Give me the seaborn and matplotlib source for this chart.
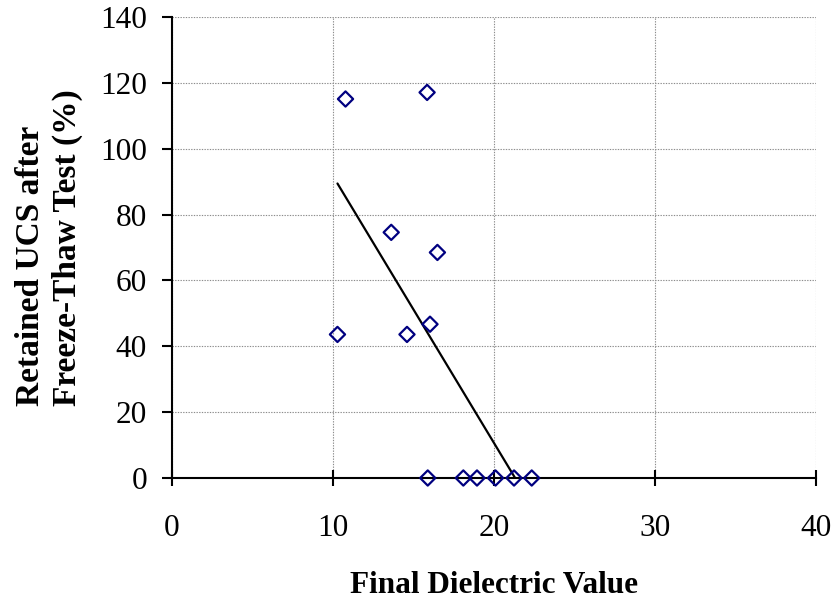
import numpy as np
import pandas as pd
import seaborn as sns
import matplotlib
matplotlib.use("Agg")
import matplotlib.pyplot as plt

# Final dielectric value vs retained UCS after freeze-thaw
dielectric = [10.78, 15.85, 13.62, 16.49, 10.28, 14.60, 16.03,
              15.89, 18.10, 18.95, 20.10, 21.25, 22.35]
retained_ucs = [115.1, 117.1, 74.6, 68.5, 43.6, 43.6, 46.7,
                0.0, 0.0, 0.0, 0.0, 0.0, 0.0]

x_ticks = [0, 10, 20, 30, 40]
y_ticks = [0, 20, 40, 60, 80, 100, 120, 140]

df = pd.DataFrame({"x": dielectric, "y": retained_ucs})

# Linear trend, drawn from the smallest value to where it reaches zero
slope, intercept = np.polyfit(df["x"], df["y"], 1)
x0 = df["x"].min()
x1 = -intercept / slope
trend = pd.DataFrame({"x": [x0, x1], "y": [slope * x0 + intercept, 0.0]})

sns.set_style("white")
plt.rcParams["font.family"] = ["Liberation Serif", "DejaVu Serif"]
plt.rcParams["text.color"] = "black"
plt.rcParams["axes.labelcolor"] = "black"

fig = plt.figure(figsize=(8.35, 6.03), dpi=100)
ax = fig.add_axes([0.2060, 0.2073, 0.7710, 0.7645])

sns.lineplot(data=trend, x="x", y="y", ax=ax, color="black", lw=1.6,
             zorder=3)
sns.scatterplot(data=df, x="x", y="y", ax=ax, marker="D", s=60,
                facecolor="none", edgecolor="#000080", linewidth=1.6,
                zorder=4, clip_on=False)

ax.set_xlim(0, 40)
ax.set_ylim(0, 140)
ax.set_xticks(x_ticks)
ax.set_yticks(y_ticks)
ax.grid(True, color="#8c8c8c", linestyle=(0, (1.2, 1.2)), linewidth=0.8)
ax.set_axisbelow(True)

for s in ["top", "right"]:
    ax.spines[s].set_visible(False)
for s in ["left", "bottom"]:
    ax.spines[s].set_color("black")
    ax.spines[s].set_linewidth(1.5)
    ax.spines[s].set_zorder(2)

ax.tick_params(axis="x", direction="inout", length=12, width=1.5,
               pad=20, labelsize=22.5, colors="black")
ax.tick_params(axis="y", direction="out", length=7, width=1.5,
               pad=11, labelsize=22.5, colors="black")
ax.tick_params(bottom=True, left=True)

ax.set_xlabel("Final Dielectric Value", fontsize=22.5, fontweight="bold",
              labelpad=20)
ax.set_ylabel("Retained UCS after\nFreeze-Thaw Test (%)", fontsize=24,
              fontweight="bold", labelpad=12, linespacing=1.25,
              multialignment="left")

fig.savefig("out.png", dpi=100)
